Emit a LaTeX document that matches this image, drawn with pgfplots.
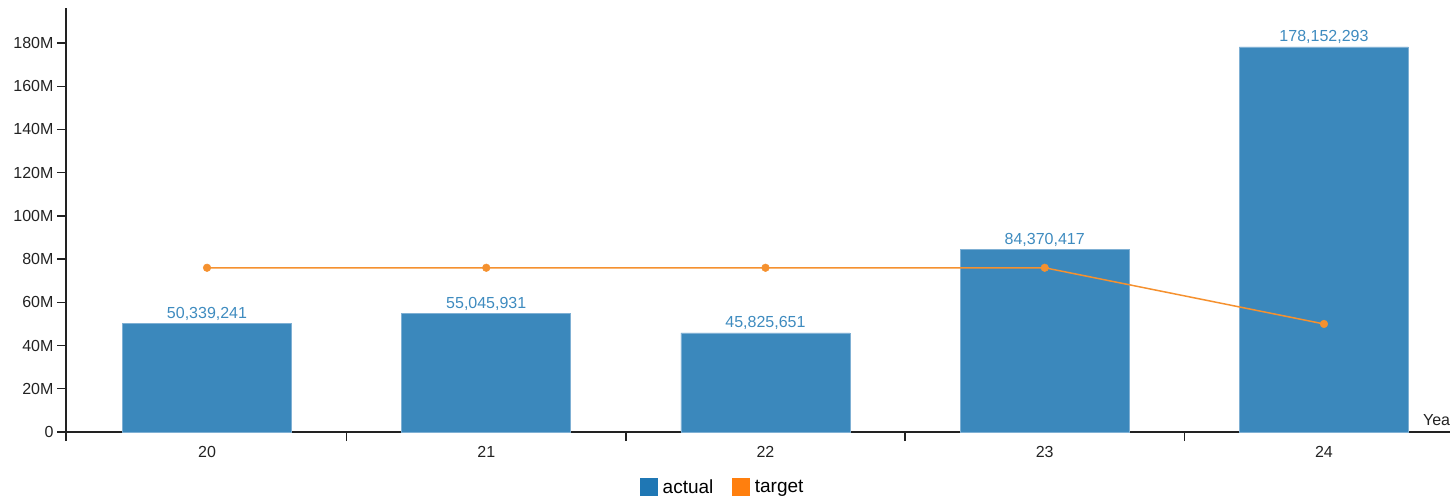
\documentclass[border=0pt]{standalone}
\usepackage{pgfplots}
\pgfplotsset{compat=1.18}
\usepackage{pgfplotstable}
\usepackage{fontspec}
\setmainfont{Liberation Sans}

\definecolor{barblue}{HTML}{3B88BC}
\definecolor{baredge}{HTML}{7FB0D4}
\definecolor{legblue}{HTML}{1F77B4}
\definecolor{legorange}{HTML}{FF7F0E}
\definecolor{tgt}{HTML}{F5912F}
\definecolor{labblue}{HTML}{3E8BBF}
\definecolor{axisc}{HTML}{222222}

\newcommand\tickfont{\fontsize{16}{19}\selectfont}
\newcommand\legfont{\fontsize{19}{22}\selectfont}

% actual values per year, in millions, with the printed label
\pgfplotstableread{
x  v          lab
0  50.339241  {50,339,241}
1  55.045931  {55,045,931}
2  45.825651  {45,825,651}
3  84.370417  {84,370,417}
4  178.152293 {178,152,293}
}\actualdata

% target values per year, in millions
\pgfplotstableread{
x  v
0  76
1  76
2  76
3  76
4  50
}\targetdata

\begin{document}
\begin{tikzpicture}[x=1pt,y=1pt]
\useasboundingbox (0,0) rectangle (1450,500);
\begin{axis}[
  at={(66pt,68pt)}, anchor=south west,
  scale only axis, width=1397.6pt, height=424pt,
  xmin=-0.505, xmax=4.5, ymin=0, ymax=196.2,
  axis x line=bottom, axis y line=left,
  axis line style={-, draw=axisc, line width=1.3pt},
  tick align=outside,
  tick style={draw=axisc, line width=1.3pt},
  major tick length=9pt,
  xtick={-0.505,0.5,1.5,2.5,3.5},
  xticklabels={},
  extra x ticks={0,1,2,3,4},
  extra x tick labels={20,21,22,23,24},
  extra x tick style={major tick length=0pt,
    tick label style={anchor=base, yshift=-26pt}},
  ytick={0,20,40,60,80,100,120,140,160,180},
  yticklabels={0,20M,40M,60M,80M,100M,120M,140M,160M,180M},
  ticklabel style={font=\tickfont, text=axisc},
  xlabel={Year},
  every axis x label/.style={at={(rel axis cs:0.9685,0.0165)}, anchor=base west, font=\tickfont, text=axisc},
  clip=false,
  legend columns=2,
  legend style={draw=none, fill=none, font=\legfont,
    at={(rel axis cs:0.47,0)}, anchor=center, yshift=-55pt,
    /tikz/every odd column/.append style={column sep=3pt},
    /tikz/every even column/.append style={column sep=17pt}},
]
\addplot[ybar, bar width=169pt, fill=barblue, draw=baredge, line width=0.8pt,
  forget plot,
  nodes near coords, point meta=explicit symbolic,
  every node near coord/.append style={anchor=base, yshift=5pt,
    font=\tickfont, text=labblue, inner sep=0pt}]
  table[x=x, y=v, meta=lab] {\actualdata};
\addplot[tgt, line width=1.5pt, mark=*, mark size=3.8pt,
  mark options={fill=tgt, draw=tgt, line width=0.5pt}, forget plot]
  table[x=x, y=v] {\targetdata};
\addlegendimage{legend image code/.code={\fill[legblue] (0pt,-8.5pt) rectangle (17pt,8.5pt);}}
\addlegendentry{actual}
\addlegendimage{legend image code/.code={\fill[legorange] (0pt,-8.5pt) rectangle (17pt,8.5pt);}}
\addlegendentry{target}
\end{axis}
\end{tikzpicture}
\end{document}
